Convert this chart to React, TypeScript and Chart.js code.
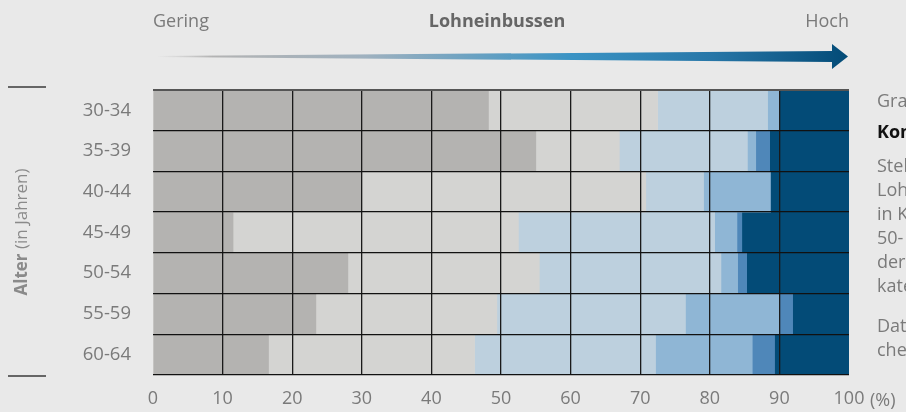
import React, { useEffect, useRef } from "react";
import { Chart, registerables } from "chart.js";

Chart.register(...registerables);

// Age groups (categories, top to bottom)
const ageGroups = ["30-34", "35-39", "40-44", "45-49", "50-54", "55-59", "60-64"];

// Segment names (from low to high wage loss)
const segmentNames = ["Stufe 1", "Stufe 2", "Stufe 3", "Stufe 4", "Stufe 5", "Stufe 6"];

// Shares in % per age group
const stufe1 = [48.2, 55.0, 30.0, 11.5, 28.0, 23.4, 16.6];
const stufe2 = [24.3, 12.0, 40.8, 41.0, 27.5, 26.0, 29.6];
const stufe3 = [15.8, 18.4, 8.3, 28.2, 26.1, 27.1, 26.0];
const stufe4 = [1.6, 1.2, 9.6, 3.2, 2.4, 13.4, 13.9];
const stufe5 = [0.0, 2.0, 0.0, 0.7, 1.3, 2.0, 3.2];
const stufe6 = [10.1, 11.4, 11.3, 15.4, 14.7, 8.1, 10.7];

const segmentColors = ["#b4b3b1", "#d4d4d2", "#bdd0de", "#8fb6d5", "#4f87b9", "#034b77"];

const xTickMin = 0;
const xTickMax = 100;
const xTickStep = 10;

const FONT = "'Open Sans', sans-serif";
const TEXT_GREY = "#7a7a7a";

export default function App() {
  const canvasRef = useRef<HTMLCanvasElement | null>(null);

  useEffect(() => {
    if (!canvasRef.current) return;
    const series = [stufe1, stufe2, stufe3, stufe4, stufe5, stufe6];
    const chart = new Chart(canvasRef.current, {
      type: "bar",
      data: {
        labels: ageGroups,
        datasets: series.map((d, i) => ({
          label: segmentNames[i],
          data: d,
          backgroundColor: segmentColors[i],
          borderWidth: 0,
          barPercentage: 1,
          categoryPercentage: 1,
        })),
      },
      options: {
        indexAxis: "y",
        responsive: false,
        animation: false,
        layout: { padding: { left: 0, right: 57, top: 90, bottom: 0 } },
        plugins: {
          legend: { display: false },
          tooltip: { enabled: false },
        },
        scales: {
          x: {
            stacked: true,
            min: xTickMin,
            max: xTickMax,
            ticks: {
              stepSize: xTickStep,
              color: TEXT_GREY,
              font: { family: FONT, size: 18 },
              padding: 13,
            },
            grid: {
              drawTicks: false,
              z: 1,
              color: (ctx: any) =>
                ctx.tick && (ctx.tick.value === xTickMin || ctx.tick.value === xTickMax)
                  ? "rgba(0,0,0,0)"
                  : "#1a1a1a",
              lineWidth: 1.3,
            },
            border: { display: false },
            afterFit: (s: any) => {
              s.height = 37;
            },
          },
          y: {
            stacked: true,
            ticks: {
              color: TEXT_GREY,
              font: { family: FONT, size: 18.5 },
              padding: 22,
            },
            grid: {
              offset: true,
              drawTicks: false,
              z: 1,
              color: (ctx: any) => (ctx.index === 0 ? "#555555" : "#111111"),
              lineWidth: (ctx: any) => (ctx.index === 0 ? 2 : 1.3),
            },
            border: { display: false },
            afterFit: (s: any) => {
              s.width = 153;
            },
          },
        },
      },
    });
    return () => chart.destroy();
  }, []);

  const rightLines1 = [
    "Stellensuchende mit hohen",
    "Lohneinbussen finden sich",
    "in Kategorien der",
    "50- bis 54-Jährigen und",
    "der höheren Alters-",
    "kategorien.",
  ];
  const rightLines2 = ["Daten: Arbeitslosenversi-", "cherung, eigene Berechnung"];

  return (
    <div
      style={{
        position: "fixed",
        left: 0,
        top: 0,
        width: 906,
        height: 412,
        overflow: "hidden",
        background: "#e9e9e9",
        fontFamily: FONT,
      }}
    >
      <canvas
        ref={canvasRef}
        width={906}
        height={412}
        style={{ position: "absolute", left: 0, top: 0, width: 906, height: 412 }}
      />
      {/* header */}
      <div style={{ position: "absolute", left: 153, top: 8, fontSize: 18, color: TEXT_GREY }}>Gering</div>
      <div
        style={{
          position: "absolute",
          left: 397,
          width: 200,
          textAlign: "center",
          top: 8,
          fontSize: 18,
          fontWeight: 700,
          color: "#666",
        }}
      >
        Lohneinbussen
      </div>
      <div
        style={{ position: "absolute", right: 906 - 849, top: 8, fontSize: 18, color: TEXT_GREY }}
      >
        Hoch
      </div>
      <svg width={906} height={80} style={{ position: "absolute", left: 0, top: 0 }}>
        <defs>
          <linearGradient id="arrowGrad" gradientUnits="userSpaceOnUse" x1={157} y1={0} x2={848} y2={0}>
            <stop offset="0" stopColor="#bdbdbd" stopOpacity="0" />
            <stop offset="0.08" stopColor="#b3b3b3" />
            <stop offset="0.3" stopColor="#9fb1bf" />
            <stop offset="0.6" stopColor="#3a93c4" />
            <stop offset="0.8" stopColor="#2877a8" />
            <stop offset="1" stopColor="#034b77" />
          </linearGradient>
        </defs>
        <polygon
          points="157,56 832,51 832,44 848,56.5 832,69 832,62 157,57"
          fill="url(#arrowGrad)"
        />
      </svg>
      {/* left axis title */}
      <div style={{ position: "absolute", left: 8, top: 86, width: 38, height: 2, background: "#666" }} />
      <div style={{ position: "absolute", left: 8, top: 375, width: 38, height: 2, background: "#666" }} />
      <div
        style={{
          position: "absolute",
          left: 20,
          top: 232,
          transform: "translate(-50%, -50%) rotate(-90deg)",
          whiteSpace: "nowrap",
          fontSize: 17,
          color: "#8a8a8a",
        }}
      >
        <span style={{ fontWeight: 700 }}>Alter</span> (in Jahren)
      </div>
      {/* (%) unit */}
      <div style={{ position: "absolute", left: 870, top: 387, fontSize: 18, color: TEXT_GREY }}>(%)</div>
      {/* right side text (cut off by page edge) */}
      <div style={{ position: "absolute", left: 877, top: 88, fontSize: 18, color: TEXT_GREY, whiteSpace: "nowrap" }}>
        Grafik 3
      </div>
      <div
        style={{
          position: "absolute",
          left: 877,
          top: 119,
          fontSize: 18,
          fontWeight: 700,
          color: "#111",
          whiteSpace: "nowrap",
        }}
      >
        Kommentar
      </div>
      <div
        style={{
          position: "absolute",
          left: 877,
          top: 153,
          fontSize: 18,
          lineHeight: "24px",
          color: TEXT_GREY,
          whiteSpace: "nowrap",
        }}
      >
        {rightLines1.map((t) => (
          <div key={t}>{t}</div>
        ))}
      </div>
      <div
        style={{
          position: "absolute",
          left: 877,
          top: 313,
          fontSize: 18,
          lineHeight: "24px",
          color: TEXT_GREY,
          whiteSpace: "nowrap",
        }}
      >
        {rightLines2.map((t) => (
          <div key={t}>{t}</div>
        ))}
      </div>
    </div>
  );
}
